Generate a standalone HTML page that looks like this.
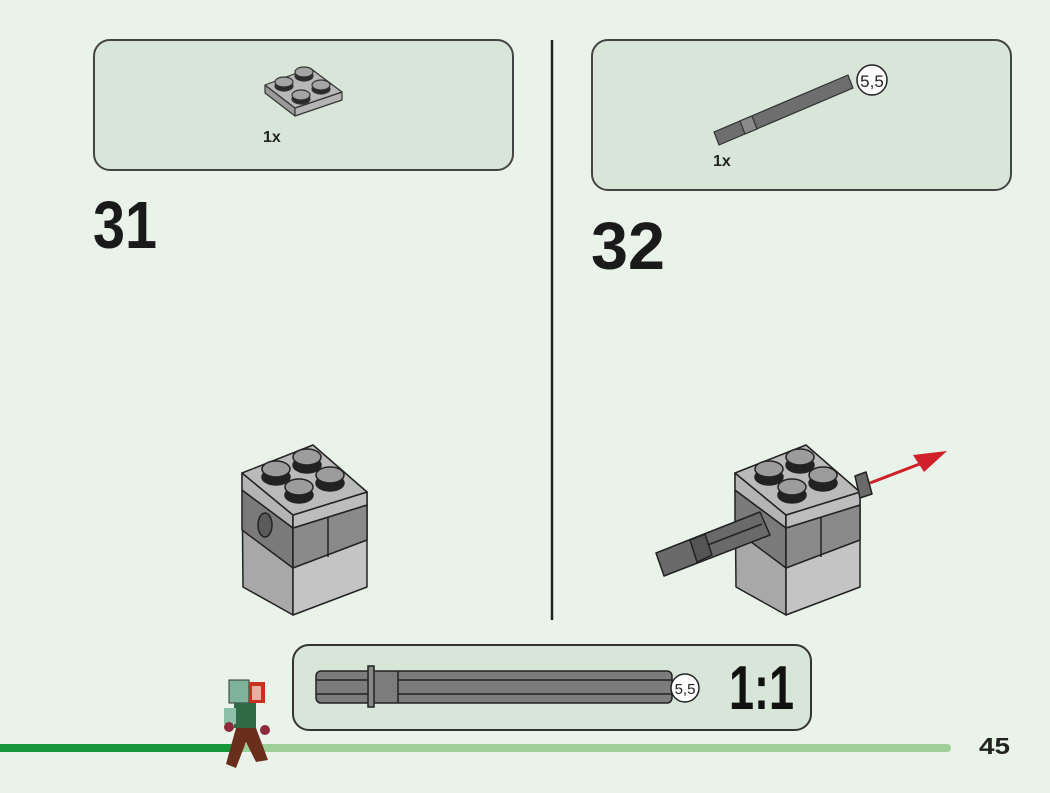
<!DOCTYPE html>
<html><head><meta charset="utf-8"><style>
html,body{margin:0;padding:0;background:#e9f3ea;}
svg{display:block;font-family:"Liberation Sans",sans-serif;}
</style></head><body>
<svg width="1050" height="793" viewBox="0 0 1050 793" xmlns="http://www.w3.org/2000/svg">
<rect width="1050" height="793" fill="#e9f3ea"/>
<rect x="94" y="40" width="419" height="130" rx="16" fill="#d8e6d9" stroke="#444" stroke-width="2"/>
<rect x="592" y="40" width="419" height="150" rx="16" fill="#d8e6d9" stroke="#444" stroke-width="2"/>
<line x1="552" y1="40" x2="552" y2="620" stroke="#222" stroke-width="2.5"/>
<g stroke="#333" stroke-width="1.2" stroke-linejoin="round">
<polygon points="265,85 295,108 295,116 265,93" fill="#9a9a9a"/>
<polygon points="295,108 342,92 342,100 295,116" fill="#b5b5b5"/>
<polygon points="265,85 310,68 342,92 295,108" fill="#b8b8b8"/>
<g fill="#2a2a2a"><ellipse cx="304" cy="76" rx="9" ry="5"/><ellipse cx="284" cy="86" rx="9" ry="5"/><ellipse cx="321" cy="89" rx="9" ry="5"/><ellipse cx="301" cy="99" rx="9" ry="5"/></g>
<g fill="#a5a5a5"><ellipse cx="304" cy="72" rx="9" ry="5"/><ellipse cx="284" cy="82" rx="9" ry="5"/><ellipse cx="321" cy="85" rx="9" ry="5"/><ellipse cx="301" cy="95" rx="9" ry="5"/></g>
</g>
<text x="263" y="142" font-size="16" font-weight="bold" fill="#222">1x</text>
<g stroke="#333" stroke-width="1.2">
<polygon points="714,132 848,75 853,88 719,145" fill="#6e6e6e"/>
<polygon points="740,121 752,116 757,129 745,134" fill="#8a8a8a"/>
</g>
<circle cx="872" cy="80" r="15" fill="#fff" stroke="#222" stroke-width="1.5"/>
<text x="872" y="87" font-size="17" text-anchor="middle" fill="#222">5,5</text>
<text x="713" y="166" font-size="16" font-weight="bold" fill="#222">1x</text>
<text x="93" y="248" font-size="67" font-weight="bold" fill="#1a1a1a" textLength="64" lengthAdjust="spacingAndGlyphs">31</text>
<text x="591" y="269" font-size="67" font-weight="bold" fill="#1a1a1a" textLength="74" lengthAdjust="spacingAndGlyphs">32</text>
<g stroke="#222" stroke-width="1.5" stroke-linejoin="round">
<polygon points="242,473 293,515 293,615 243,587" fill="#a8a8a8"/>
<polygon points="242,490 293,528 293,568 242,530" fill="#7a7a7a"/>
<polygon points="242,473 293,515 293,528 242,490" fill="#b4b4b4"/>
<polygon points="293,515 367,492 367,587 293,615" fill="#c4c4c4"/>
<polygon points="293,528 367,505 367,540 293,568" fill="#8a8a8a"/>
<polygon points="293,515 367,492 367,505 293,528" fill="#bdbdbd"/>
<line x1="328" y1="517" x2="328" y2="557"/>
<polygon points="242,473 313,445 367,492 293,515" fill="#bababa"/>
<g fill="#222"><ellipse cx="307" cy="465" rx="14" ry="8"/><ellipse cx="276" cy="477" rx="14" ry="8"/><ellipse cx="330" cy="483" rx="14" ry="8"/><ellipse cx="299" cy="495" rx="14" ry="8"/></g>
<g fill="#9c9c9c"><ellipse cx="307" cy="457" rx="14" ry="8"/><ellipse cx="276" cy="469" rx="14" ry="8"/><ellipse cx="330" cy="475" rx="14" ry="8"/><ellipse cx="299" cy="487" rx="14" ry="8"/></g>
</g>
<ellipse cx="265" cy="525" rx="7" ry="12" fill="#5a5a5a" stroke="#222" stroke-width="1.5"/>
<g transform="translate(493,0)" stroke="#222" stroke-width="1.5" stroke-linejoin="round">
<polygon points="242,473 293,515 293,615 243,587" fill="#a8a8a8"/>
<polygon points="242,490 293,528 293,568 242,530" fill="#7a7a7a"/>
<polygon points="242,473 293,515 293,528 242,490" fill="#b4b4b4"/>
<polygon points="293,515 367,492 367,587 293,615" fill="#c4c4c4"/>
<polygon points="293,528 367,505 367,540 293,568" fill="#8a8a8a"/>
<polygon points="293,515 367,492 367,505 293,528" fill="#bdbdbd"/>
<line x1="328" y1="517" x2="328" y2="557"/>
<polygon points="242,473 313,445 367,492 293,515" fill="#bababa"/>
<g fill="#222"><ellipse cx="307" cy="465" rx="14" ry="8"/><ellipse cx="276" cy="477" rx="14" ry="8"/><ellipse cx="330" cy="483" rx="14" ry="8"/><ellipse cx="299" cy="495" rx="14" ry="8"/></g>
<g fill="#9c9c9c"><ellipse cx="307" cy="457" rx="14" ry="8"/><ellipse cx="276" cy="469" rx="14" ry="8"/><ellipse cx="330" cy="475" rx="14" ry="8"/><ellipse cx="299" cy="487" rx="14" ry="8"/></g>
</g>
<g stroke="#222" stroke-width="1.5" stroke-linejoin="round">
<polygon points="656,553 760,512 770,535 664,576" fill="#6a6a6a"/>
<line x1="700" y1="548" x2="762" y2="524"/>
<polygon points="690,540 705,534 712,555 697,562" fill="#555"/>
<polygon points="855,476 866,472 872,494 860,498" fill="#6a6a6a"/>
</g>
<line x1="870" y1="483" x2="930" y2="460" stroke="#d0202a" stroke-width="3"/>
<polygon points="947,451 913,455 924,472" fill="#d0202a"/>
<rect x="293" y="645" width="518" height="85" rx="16" fill="#d8e6d9" stroke="#333" stroke-width="2"/>
<g stroke="#222" stroke-width="1.5">
<rect x="316" y="671" width="356" height="32" rx="5" fill="#7c7c7c"/>
<line x1="316" y1="680" x2="368" y2="680"/><line x1="316" y1="694" x2="368" y2="694"/>
<line x1="398" y1="680" x2="672" y2="680"/><line x1="398" y1="694" x2="672" y2="694"/>
<line x1="398" y1="671" x2="398" y2="703"/>
<rect x="368" y="666" width="6" height="41" fill="#888"/>
</g>
<circle cx="685" cy="688" r="14" fill="#fff" stroke="#222" stroke-width="1.5"/>
<text x="685" y="694" font-size="15" text-anchor="middle" fill="#222">5,5</text>
<text x="729" y="709" font-size="62" font-weight="bold" fill="#111" textLength="65" lengthAdjust="spacingAndGlyphs">1:1</text>
<rect x="0" y="744" width="240" height="8" fill="#17973a"/>
<rect x="235" y="744" width="716" height="8" rx="4" fill="#9fcf98"/>
<text x="979" y="754" font-size="23" font-weight="bold" fill="#222" textLength="31" lengthAdjust="spacingAndGlyphs">45</text>
<rect x="229" y="680" width="20" height="23" fill="#7fb29a" stroke="#333" stroke-width="1"/>
<rect x="249" y="682" width="16" height="21" fill="#c83020"/>
<rect x="252" y="686" width="9" height="14" fill="#e8b0a0"/>
<rect x="234" y="703" width="22" height="25" fill="#2e6a44"/>
<rect x="224" y="708" width="12" height="16" fill="#8cc0a8"/>
<circle cx="229" cy="727" r="5" fill="#8a2a3a"/><circle cx="265" cy="730" r="5" fill="#8a2a3a"/>
<polygon points="236,728 256,728 268,760 256,762 246,742 236,768 226,764" fill="#6a2e1c"/>
</svg>
</body></html>
